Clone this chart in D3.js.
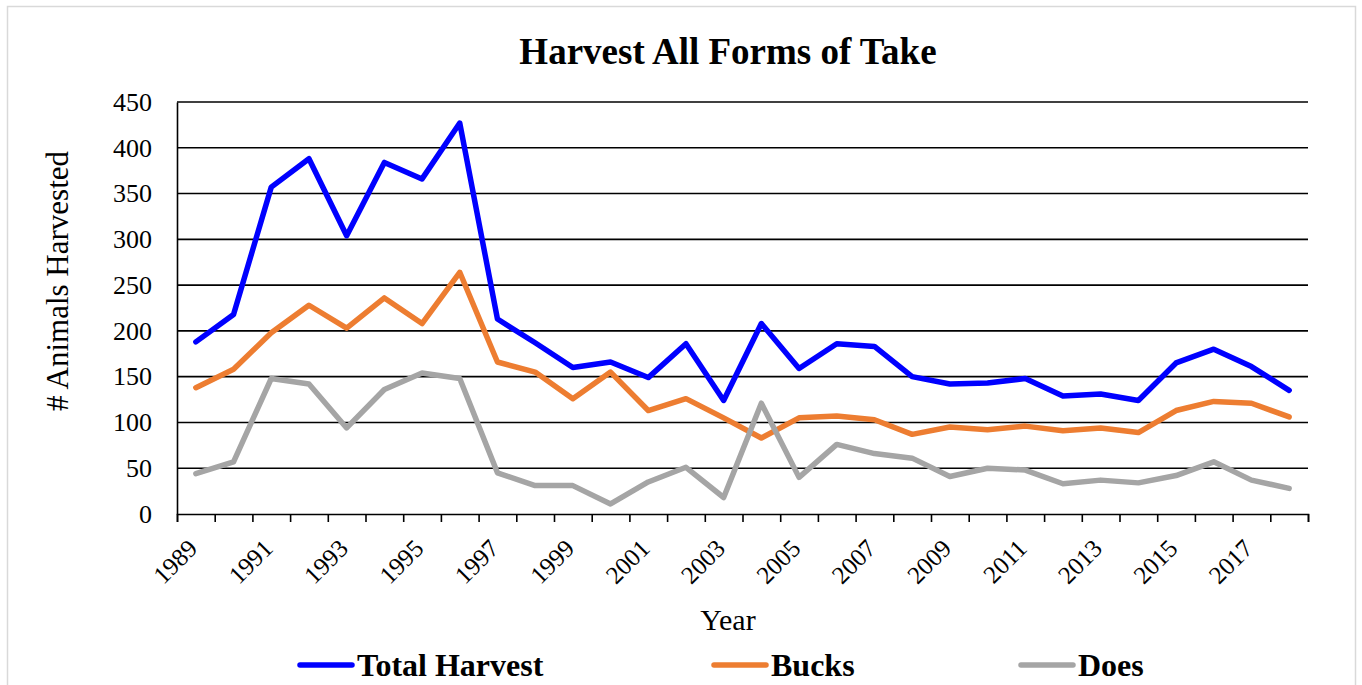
<!DOCTYPE html>
<html>
<head>
<meta charset="utf-8">
<script src="https://cdn.jsdelivr.net/npm/d3@7"></script>
<style>
  body { margin: 0; background: #fff; }
  svg text { font-family: "Liberation Serif", "Times New Roman", serif; fill: #000; }
</style>
</head>
<body>
<div id="chart"></div>
<script>
// Harvest all forms of take, 1989-2018
const years = d3.range(1989, 2019);
const totalHarvest = [188, 218, 357, 388, 304, 384, 366, 427, 213, 187,
  160, 166, 149, 186, 124, 208, 159, 186, 183, 150,
  142, 143, 148, 129, 131, 124, 165, 180, 161, 135];
const bucks = [138, 158, 198, 228, 203, 236, 208, 264, 166, 155,
  126, 155, 113, 126, 105, 83, 105, 107, 103, 87,
  95, 92, 96, 91, 94, 89, 113, 123, 121, 106];
const does = [44, 57, 148, 142, 94, 136, 154, 148, 45, 31,
  31, 11, 35, 51, 18, 121, 40, 76, 66, 61,
  41, 50, 48, 33, 37, 34, 42, 57, 37, 28];
const yTicks = [0, 50, 100, 150, 200, 250, 300, 350, 400, 450];

const series = [
  { name: "Total Harvest", values: totalHarvest, color: "#0000ff" },
  { name: "Bucks", values: bucks, color: "#ed7d31" },
  { name: "Does", values: does, color: "#a5a5a5" }
];

const W = 1362, H = 685;
const plot = { left: 177, right: 1308, top: 102, bottom: 514 };

const svg = d3.select("#chart").append("svg")
  .attr("width", W).attr("height", H);

// outer chart border
svg.append("rect")
  .attr("x", 7.5).attr("y", 6.5)
  .attr("width", 1348).attr("height", 700)
  .attr("fill", "none").attr("stroke", "#d9d9d9").attr("stroke-width", 1.5);

const x = d3.scaleBand().domain(years).range([plot.left, plot.right]).padding(0);
const y = d3.scaleLinear().domain([0, 450]).range([plot.bottom, plot.top]);
const xc = (yr) => x(yr) + x.bandwidth() / 2;

// gridlines
svg.append("g").selectAll("line").data(yTicks.filter((d) => d > 0)).enter().append("line")
  .attr("x1", plot.left).attr("x2", plot.right)
  .attr("y1", (d) => y(d)).attr("y2", (d) => y(d))
  .attr("stroke", "#000").attr("stroke-width", 1.6);

// y axis
const yAxis = svg.append("g")
  .attr("transform", `translate(${plot.left},0)`)
  .call(d3.axisLeft(y).tickValues(yTicks).tickSize(0).tickPadding(25));
yAxis.attr("font-family", null).attr("font-size", null);
yAxis.select(".domain").attr("stroke", "#000").attr("stroke-width", 1.6);
yAxis.selectAll("text").style("font-size", "26px");

// x axis: tick marks on band boundaries
const bounds = d3.scaleLinear().domain([0, years.length]).range([plot.left, plot.right]);
const xTickAxis = svg.append("g")
  .attr("transform", `translate(0,${plot.bottom})`)
  .call(d3.axisBottom(bounds).tickValues(d3.range(0, years.length + 1)).tickSize(8).tickFormat(""));
xTickAxis.select(".domain").attr("stroke", "#000").attr("stroke-width", 1.6);
xTickAxis.selectAll(".tick line").attr("stroke", "#000").attr("stroke-width", 1.6);

// x labels every other year, rotated
svg.append("g").selectAll("text").data(years.filter((d, i) => i % 2 === 0)).enter().append("text")
  .attr("transform", (d) => `translate(${xc(d) + 3},${plot.bottom + 36}) rotate(-45)`)
  .attr("text-anchor", "end")
  .style("font-size", "25px")
  .text((d) => d);

// lines
const line = d3.line().x((d, i) => xc(years[i])).y((d) => y(d));
svg.append("g").selectAll("path").data(series).enter().append("path")
  .attr("d", (d) => line(d.values))
  .attr("fill", "none")
  .attr("stroke", (d) => d.color)
  .attr("stroke-width", 5.5)
  .attr("stroke-linejoin", "round")
  .attr("stroke-linecap", "round");

// title
svg.append("text")
  .attr("x", 728).attr("y", 64)
  .attr("text-anchor", "middle")
  .style("font-size", "37px").style("font-weight", "bold")
  .text("Harvest All Forms of Take");

// axis titles
svg.append("text")
  .attr("transform", "translate(68,281) rotate(-90)")
  .attr("text-anchor", "middle")
  .style("font-size", "31px")
  .text("# Animals Harvested");
svg.append("text")
  .attr("x", 728).attr("y", 630)
  .attr("text-anchor", "middle")
  .style("font-size", "30px")
  .text("Year");

// legend
const legendX = [298, 712, 1019];
const leg = svg.append("g").selectAll("g").data(series).enter().append("g")
  .attr("transform", (d, i) => `translate(${legendX[i]},665)`);
leg.append("line")
  .attr("x1", 2).attr("x2", 54).attr("y1", 0).attr("y2", 0)
  .attr("stroke", (d) => d.color).attr("stroke-width", 5.5).attr("stroke-linecap", "round");
leg.append("text")
  .attr("x", 59).attr("y", 0).attr("dy", "0.35em")
  .style("font-size", "32px").style("font-weight", "bold")
  .text((d) => d.name);
</script>
</body>
</html>
